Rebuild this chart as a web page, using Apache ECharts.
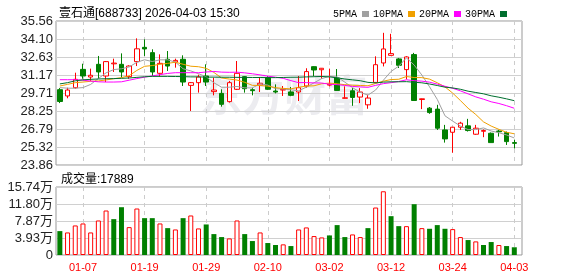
<!DOCTYPE html>
<html><head><meta charset="utf-8">
<script src="https://cdn.jsdelivr.net/npm/echarts@6/dist/echarts.min.js"></script>
<style>html,body{margin:0;padding:0;background:#fff}#c{width:578px;height:276px}</style>
</head><body><div id="c"></div>
<script>
const stockName = '壹石通';
const stockCode = '688733';
const stamp = '2026-04-03 15:30';
const dates = ['12-31',
 '01-05','01-06','01-07','01-08','01-09','01-12','01-13','01-14','01-15','01-16',
 '01-19','01-20','01-21','01-22','01-23','01-26','01-27','01-28','01-29','01-30',
 '02-02','02-03','02-04','02-05','02-06','02-09','02-10','02-11','02-12','02-13',
 '02-24','02-25','02-26','02-27',
 '03-02','03-03','03-04','03-05','03-06','03-09','03-10','03-11','03-12','03-13',
 '03-16','03-17','03-18','03-19','03-20','03-23','03-24','03-25','03-26','03-27',
 '03-30','03-31','04-01','04-02','04-03'];
const opens  = [29.98,29.47,30.14,31.63,31.01,32.04,31.09,32.08,32.04,31.04,
                32.26,33.42,32.99,31.31,32.45,32.23,32.45,30.33,30.55,31.09,
                29.82,29.68,29.01,30.01,31.04,29.98,30.36,30.96,29.87,29.95,
                29.80,29.79,30.28,31.85,31.60,30.35,30.93,29.28,29.89,29.38,
                28.75,30.57,32.15,32.77,32.48,31.61,32.83,29.18,28.48,28.40,
                26.71,26.52,26.93,27.04,26.36,26.60,26.44,26.62,26.49,25.68];
const closes = [29.02,29.95,30.82,31.09,31.15,31.42,32.26,32.14,31.42,31.90,
                33.30,33.29,31.42,32.12,31.90,32.36,30.60,30.55,31.01,30.60,
                29.95,28.79,30.55,31.31,30.06,29.90,30.50,30.01,29.79,30.01,
                29.52,30.14,31.45,31.58,31.72,30.42,29.92,29.32,29.35,29.79,
                29.30,32.01,33.29,32.91,31.96,32.64,29.10,29.24,28.12,26.85,
                25.98,26.93,27.26,26.66,26.85,26.66,25.68,26.56,25.76,25.62];
const lows   = [28.89,29.28,30.06,30.87,30.69,30.87,30.60,31.42,30.96,30.87,
                31.90,32.72,31.09,31.04,31.50,31.77,30.28,28.25,29.74,30.28,
                29.52,28.60,28.93,29.95,29.74,29.52,29.79,29.95,29.68,29.47,
                29.45,29.06,30.14,31.09,30.87,30.25,29.90,29.25,28.67,28.89,
                28.43,30.52,31.87,32.74,31.74,30.82,29.10,28.40,28.02,26.71,
                25.68,24.86,26.71,26.58,26.31,26.12,25.68,26.17,25.49,25.20];
const highs  = [30.11,30.14,31.36,32.09,31.69,32.72,32.31,32.50,32.93,31.96,
                34.15,34.07,33.26,32.85,33.12,32.50,32.77,30.60,31.20,32.04,
                30.96,30.01,30.69,32.31,31.09,30.14,30.96,31.09,30.41,30.28,
                30.20,31.09,31.72,31.88,31.74,31.69,31.66,30.25,30.11,30.11,
                29.57,32.69,34.60,34.52,32.56,32.70,32.97,29.26,28.57,28.75,
                27.12,26.95,27.37,27.61,27.12,26.75,26.50,26.72,26.58,25.92];
const volumes = [55300,52200,68400,73000,52200,79900,103000,83000,110600,64500,
                 107600,85300,85300,73000,62200,59100,85300,91500,61500,70700,
                 48400,41500,38400,79900,48400,32300,52200,27700,23100,24600,
                 20700,59100,63800,43800,40700,45300,69200,41500,47600,41500,
                 62200,109900,147500,89900,66800,66800,117600,62200,60700,69200,
                 60700,59900,41500,34600,31500,23100,30000,23100,20700,17889];
const volUp = [0,1,1,1,1,1,1,0,0,1, 1,0,0,1,0,1,0,1,1,0,
               0,0,1,1,0,0,1,0,0,1, 0,1,1,1,1,0,0,0,1,1,
               0,1,1,0,0,1,0,1,0,0, 0,1,1,0,1,0,0,1,0,0];
const ma5Head  = [30.15,30.10,30.10,30.15];
const ma10Head = [30.28,30.41,30.55,30.60,30.66,30.69,30.77,30.87,30.96];
const ma20Head = [30.79,30.79,30.79,30.75,30.68,30.62,30.60,30.60,30.62,30.75,
                  30.88,31.00,31.10,31.20,31.30,31.36,31.36,31.36,31.36];
const ma30Head = [30.45,30.55,30.70,30.78,30.82,30.85,30.87,30.88,30.90,30.93,
                  30.98,31.03,31.06,31.06,31.06,31.05,31.04,31.02,31.02,31.00,
                  31.00,30.99,30.99,30.98,30.98,30.97,30.97,30.96,30.96];
const priceTickLabels = ['23.86','25.32','26.79','28.25','29.71','31.17','32.63','34.10','35.56'];
const volTickLabels = ['0','3.93万','7.87万','11.80万','15.74万'];
const xTickLabels = ['01-07','01-19','01-29','02-10','03-02','03-12','03-24','04-03'];
const maNames = ['5PMA','10PMA','20PMA','30PMA'];

function ma(n, head) {
  return closes.map((c, i) => {
    if (i < n - 1) return head[i];
    let s = 0; for (let k = i - n + 1; k <= i; k++) s += closes[k];
    return +(s / n).toFixed(3);
  });
}
const maData = [ma(5, ma5Head), ma(10, ma10Head), ma(20, ma20Head), ma(30, ma30Head)];
const maColors = ['#a0a0a0', '#f0a000', '#ff00ff', '#006e2e'];
const RED = '#ff0000', GREEN = '#008000';
const priceVals = priceTickLabels.map(Number);
const volVals = volTickLabels.map(s => parseFloat(s) * 10000);
const xIdx = xTickLabels.map(d => dates.indexOf(d));
const NARROW = '"Liberation Sans Narrow","Liberation Sans",Arial,sans-serif';
const MONO = '"Liberation Mono","DejaVu Sans Mono",monospace';

const chart = echarts.init(document.getElementById('c'), null, {renderer: 'canvas'});
const gridBorder = '#999';
chart.setOption({
  animation: false,
  backgroundColor: '#fff',
  title: [
    {text: stockName + '[' + stockCode + '] ' + stamp, left: 54, top: 3,
     textStyle: {fontSize: 12, fontWeight: 'normal', color: '#000', fontFamily: '"Liberation Sans","Noto Sans CJK SC",sans-serif'}},
    {text: '成交量:' + volumes[volumes.length - 1], left: 56, top: 169,
     textStyle: {fontSize: 12, fontWeight: 'normal', color: '#000', fontFamily: '"Liberation Sans","Noto Sans CJK SC",sans-serif'}}
  ],
  legend: {data: maNames, right: 66, top: 4, align: 'right', icon: 'rect', itemWidth: 7, itemHeight: 6,
    itemGap: 4, textStyle: {fontSize: 10, color: '#000', fontFamily: MONO}},
  graphic: [{type: 'text', left: 200, top: 74, z: -1, silent: true,
    style: {text: '东方财富', font: 'bold 42px "Noto Sans CJK SC"', fill: '#ececf0'}}],
  grid: [
    {left: 56, right: 56, top: 21, height: 144, show: true, borderColor: gridBorder, borderWidth: 1, backgroundColor: 'transparent'},
    {left: 56, right: 56, top: 187, height: 68, show: true, borderColor: gridBorder, borderWidth: 1, backgroundColor: 'transparent'}
  ],
  xAxis: [
    {type: 'value', gridIndex: 0, min: -0.5, max: 60, axisLine: {show: false}, axisTick: {show: false, customValues: xIdx},
     axisLabel: {show: false, customValues: xIdx}, splitLine: {show: true, lineStyle: {type: [4, 4], color: '#ccc'}}},
    {type: 'value', gridIndex: 1, min: -0.5, max: 60, axisLine: {show: false}, axisTick: {show: false, customValues: xIdx},
     axisLabel: {customValues: xIdx, formatter: v => dates[Math.round(v)], color: RED, fontSize: 11, fontFamily: NARROW, margin: 7},
     splitLine: {show: true, lineStyle: {type: [4, 4], color: '#ccc'}}}
  ],
  yAxis: [
    {type: 'value', gridIndex: 0, min: priceVals[0], max: priceVals[priceVals.length - 1], axisLine: {show: false},
     axisTick: {show: false, customValues: priceVals},
     axisLabel: {customValues: priceVals, formatter: v => v.toFixed(2), fontSize: 13, color: '#222', margin: 3, fontFamily: 'Arial,"Liberation Sans",sans-serif'},
     splitLine: {show: true, lineStyle: {color: '#d0d0d0'}}},
    {type: 'value', gridIndex: 1, min: 0, max: volVals[volVals.length - 1], axisLine: {show: false},
     axisTick: {show: false, customValues: volVals},
     axisLabel: {customValues: volVals, formatter: v => volTickLabels[volVals.indexOf(v)] || '', fontSize: 13, color: '#222', margin: 3, fontFamily: 'Arial,"Liberation Sans","Noto Sans CJK SC",sans-serif'},
     splitLine: {show: true, lineStyle: {color: '#d0d0d0'}}}
  ],
  series: [
    {type: 'candlestick', name: 'K', xAxisIndex: 0, yAxisIndex: 0, barWidth: 5,
     data: dates.map((d, i) => [i, opens[i], closes[i], lows[i], highs[i]]),
     itemStyle: {color: '#fff', color0: GREEN, borderColor: RED, borderColor0: GREEN, borderWidth: 1}},
  ].concat(maNames.map((n, k) => ({
    type: 'line', name: n, xAxisIndex: 0, yAxisIndex: 0, symbol: 'none', smooth: false,
    data: maData[k].map((v, i) => [i, v]), lineStyle: {width: 1, color: maColors[k]}, itemStyle: {color: maColors[k]}
  }))).concat([
    {type: 'bar', name: 'VOL', xAxisIndex: 1, yAxisIndex: 1, barWidth: 5,
     data: volumes.map((v, i) => ({value: [i, v], itemStyle: volUp[i] ? {color: '#fff', borderColor: RED, borderWidth: 1} : {color: GREEN}}))}
  ])
});
</script></body></html>
